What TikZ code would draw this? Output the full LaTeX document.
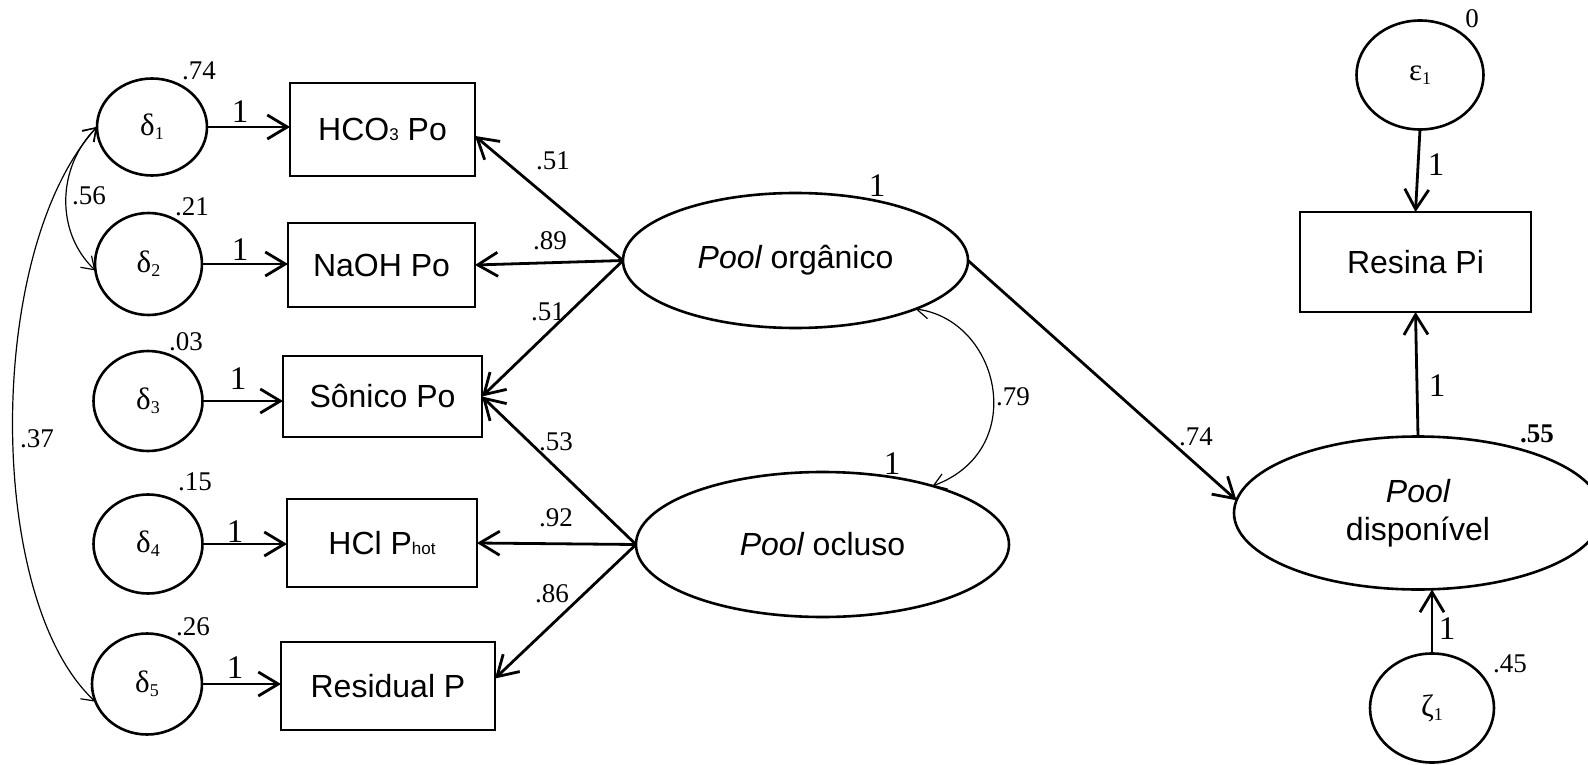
\documentclass[tikz,border=0pt]{standalone}
\usepackage{fontspec}
\setmainfont{Liberation Serif}
\newfontfamily\arialfam{Liberation Sans}
\usetikzlibrary{shapes.geometric,arrows.meta}

% small lowered index for the Greek error terms
\newcommand\lowsub[1]{\raisebox{-4pt}{\fontsize{18}{18}\selectfont #1}}
% small index sitting on the baseline (box labels)
\newcommand\basesub[1]{{\fontsize{17}{17}\selectfont #1}}

\begin{document}
\begin{tikzpicture}[x=1pt,y=-1pt,
  every node/.style={inner sep=0pt, outer sep=0pt},
  latent/.style 2 args={draw, ellipse, line width=2.6pt,
    minimum width=#1, minimum height=#2},
  obsbox/.style 2 args={draw, rectangle, line width=2.8pt,
    minimum width=#1, minimum height=#2,
    font=\arialfam\fontsize{32}{38}\selectfont},
  latlabel/.style={font=\arialfam\fontsize{32}{38}\selectfont, align=center},
  greek/.style={font=\fontsize{31}{31}\selectfont},
  pathar/.style={line width=2.8pt, -{Straight Barb[length=20pt,width=24pt]}},
  covar/.style={line width=1.2pt,
    {Straight Barb[length=12pt,width=16pt]}-{Straight Barb[length=12pt,width=16pt]}},
  est/.style={font=\fontsize{27}{27}\selectfont},
  fixd/.style={font=\fontsize{33}{33}\selectfont}
]
\fill[white] (0,0) rectangle (1588,765);
\useasboundingbox (0,0) rectangle (1588,765);

% measurement errors
\node[latent={110pt}{97pt}, greek]  (d1) at (152,127)   {δ\lowsub{1}};
\node[latent={107pt}{102pt}, greek] (d2) at (148.5,264) {δ\lowsub{2}};
\node[latent={109pt}{100pt}, greek] (d3) at (148,401)   {δ\lowsub{3}};
\node[latent={109pt}{99pt}, greek]  (d4) at (148,544)   {δ\lowsub{4}};
\node[latent={110pt}{101pt}, greek] (d5) at (147,684)   {δ\lowsub{5}};

% observed fractions
\node[obsbox={185pt}{93pt}] (hco)   at (382.5,129.5) {HCO\basesub{3} Po};
\node[obsbox={187pt}{84pt}] (naoh)  at (381.5,265)   {NaOH Po};
\node[obsbox={199pt}{81pt}] (son)   at (382.5,396.5) {Sônico Po};
\node[obsbox={190pt}{88pt}] (hcl)   at (382,543)     {HCl P\basesub{hot}};
\node[obsbox={214pt}{88pt}] (resid) at (388,686)     {Residual P};

% latent pools
\node[latent={345pt}{135pt}, latlabel] (org)  at (795.5,260.5) {{\itshape Pool} orgânico};
\node[latent={373pt}{145pt}, latlabel] (ocl)  at (822.5,544.5) {{\itshape Pool} ocluso};
\node[latent={368pt}{153pt}, latlabel] (disp) at (1418,513)    {{\itshape Pool}\\disponível};

% available pool indicator
\node[latent={127pt}{109pt}, greek] (eps)    at (1420,75)     {ε\lowsub{1}};
\node[obsbox={231pt}{100pt}]        (resina) at (1415.5,262)  {Resina Pi};
\node[latent={124pt}{109pt}, greek] (zeta)   at (1432,708)    {ζ\lowsub{1}};

% error paths
\draw[pathar] (d1.east) -- (hco.west |- d1.east);
\draw[pathar] (d2.east) -- (naoh.west |- d2.east);
\draw[pathar] (d3.east) -- (son.west |- d3.east);
\draw[pathar] (d4.east) -- (hcl.west |- d4.east);
\draw[pathar] (d5.east) -- (resid.west |- d5.east);

% loadings
\draw[pathar] (org.west) -- (hco.-4);
\draw[pathar] (org.west) -- (naoh.east);
\draw[pathar] (org.west) -- (son.east);
\draw[pathar] (ocl.west) -- (son.east);
\draw[pathar] (ocl.west) -- (hcl.east);
\draw[pathar] (ocl.west) -- (resid.4);

% structural paths
\draw[pathar] (org.east) -- (disp.176);
\draw[pathar] (eps.south) -- (resina.north);
\draw[pathar] (disp.north) -- (resina.south);
\draw[pathar] (zeta.north) -- (zeta.north |- disp.south);

% covariances
\draw[covar] (d1.west) .. controls (57,167) and (55,232) .. (d2.187);
\draw[covar] (d1.west) .. controls (-15,250) and (-15,600) .. (d5.199);
\draw[covar] (org.-22) .. controls (1000,320) and (1030,450) .. (ocl.28);

% variance estimates
\node[est] (v1)   at (199,71)   {.74};
\node[est] (v2)   at (192,207)  {.21};
\node[est] (v3)   at (186,342)  {.03};
\node[est] (v4)   at (195,482)  {.15};
\node[est] (v5)   at (193,627)  {.26};
\node[est] (veps) at (1472,19)  {0};
\node[est] (vzet) at (1510,664) {.45};
\node[est, font=\fontsize{27}{27}\selectfont\bfseries] (rsq) at (1537,434) {.55};

% covariance estimates
\node[est] (c12) at (89,196)   {.56};
\node[est] (c15) at (37,439)   {.37};
\node[est] (c79) at (1013,397) {.79};

% loading estimates
\node[est] (l1) at (553,161) {.51};
\node[est] (l2) at (550,241) {.89};
\node[est] (l3) at (548,312) {.51};
\node[est] (l4) at (556,442) {.53};
\node[est] (l5) at (556,518) {.92};
\node[est] (l6) at (552,594) {.86};
\node[est] (l7) at (1196,437) {.74};

% fixed parameters
\node[fixd] (f1)  at (240,112)  {1};
\node[fixd] (f2)  at (240,250)  {1};
\node[fixd] (f3)  at (238,379)  {1};
\node[fixd] (f4)  at (235,532)  {1};
\node[fixd] (f5)  at (235,668)  {1};
\node[fixd] (fo)  at (877,186)  {1};
\node[fixd] (fc)  at (892,464)  {1};
\node[fixd] (fe)  at (1436,165) {1};
\node[fixd] (fr)  at (1437,386) {1};
\node[fixd] (fz)  at (1447,629) {1};
\end{tikzpicture}
\end{document}
